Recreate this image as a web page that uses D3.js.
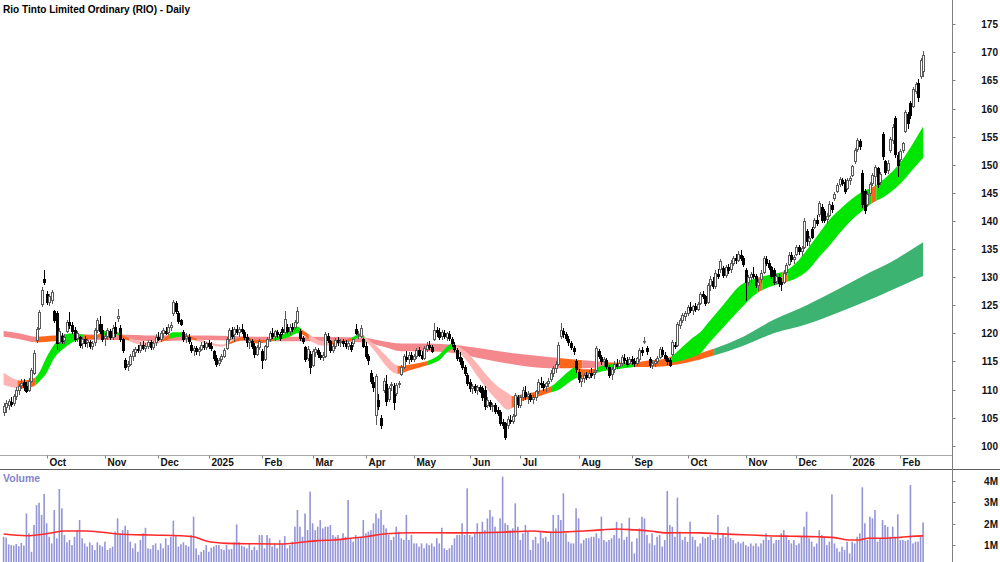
<!DOCTYPE html>
<html>
<head>
<meta charset="utf-8">
<script src="https://cdn.jsdelivr.net/npm/d3@7"></script>
<style>
  html, body { margin: 0; padding: 0; background: #fff; }
  svg { display: block; font-family: "Liberation Sans", Arial, sans-serif; }
</style>
</head>
<body>
<div id="chart"></div>
<script>
// Rio Tinto (RIO) daily candles, Sep 2024 - Feb 2026, one entry per trading day
var open = [
  106.0,106.8,107.2,107.8,107.6,108.8,110.0,110.8,111.4,110.6,110.0,111.6,113.0,118.8,121.0,125.2,129.6,
  127.0,125.6,126.0,124.0,123.6,118.4,119.6,118.8,120.4,122.0,121.4,120.6,119.2,119.4,118.2,119.0,118.4,118.4,117.8,118.4,120.6,121.6,120.6,
  119.2,119.6,120.4,119.4,121.2,122.8,121.0,119.0,115.2,114.2,114.6,116.0,116.6,117.2,117.0,118.0,117.4,117.8,118.4,117.6,118.4,
  119.4,119.0,120.0,120.4,120.2,121.2,123.6,125.4,123.6,122.4,120.2,119.2,119.4,118.0,117.0,117.4,116.8,117.2,118.0,117.6,
  118.2,117.8,116.8,115.6,114.8,115.4,116.0,117.4,119.0,120.6,119.8,120.8,120.2,120.8,120.2,119.4,118.4,118.6,117.8,116.4,117.6,
  116.8,115.4,117.8,119.0,120.0,119.6,120.2,119.8,120.8,120.2,121.2,120.4,121.2,121.2,122.0,120.4,119.2,117.6,115.6,116.4,
  114.4,116.6,117.0,116.2,115.8,116.0,119.6,118.6,117.0,117.8,118.8,118.4,118.6,118.2,117.8,118.0,118.2,120.8,119.8,119.6,119.0,
  117.8,116.0,113.0,111.4,105.4,108.2,105.0,110.0,111.0,108.4,110.8,110.6,109.4,111.0,112.8,114.0,115.8,115.4,116.2,
  115.4,116.0,117.0,116.2,115.6,117.2,118.0,117.6,119.0,120.6,120.2,119.6,120.0,119.4,119.8,119.0,118.0,117.0,115.8,115.0,114.0,112.6,
  111.4,110.2,110.6,110.0,110.4,110.2,110.0,107.2,107.8,107.0,107.2,106.4,106.0,104.2,104.0,103.6,104.6,104.4,105.4,108.6,
  107.2,108.6,109.6,108.8,109.0,108.4,108.6,109.8,111.2,111.0,110.6,111.2,111.8,113.0,113.8,114.6,119.6,120.4,119.8,119.0,118.2,117.4,115.0,
  113.2,111.6,112.0,112.6,112.2,113.0,112.8,113.4,116.8,115.8,115.0,115.2,114.0,112.8,113.6,114.6,114.2,114.8,115.6,115.2,114.8,
  115.4,115.0,114.8,115.4,117.0,118.6,117.4,115.4,114.4,114.8,115.0,115.8,117.0,116.2,115.6,115.2,116.4,118.0,118.0,121.4,122.4,123.0,
  123.6,124.6,124.2,124.8,124.4,125.4,127.0,126.6,125.6,128.6,129.4,128.4,130.6,131.4,131.6,130.4,131.8,131.4,132.6,133.4,133.0,134.0,133.4,
  131.2,129.2,130.0,130.6,130.2,128.6,129.6,131.0,133.2,132.6,131.8,131.2,129.4,130.0,129.2,129.2,131.0,132.4,134.0,133.2,
  134.2,135.4,134.6,135.4,138.2,136.4,138.6,139.0,140.2,141.2,142.4,141.8,140.4,141.0,142.8,144.0,145.4,146.6,147.2,147.0,145.8,
  147.2,148.2,150.6,152.8,154.2,148.6,145.4,143.0,145.0,146.8,148.0,149.4,147.0,155.4,150.6,149.0,152.6,154.4,158.4,151.8,
  151.0,152.6,156.0,159.0,161.0,160.4,163.2,164.6,165.8,166.6
];
var high = [
  107.6,108.2,108.4,108.6,109.2,110.4,111.0,111.8,111.8,111.3,112.0,113.8,117.0,121.2,124.2,128.2,131.2,
  127.5,127.0,127.8,124.2,124.0,121.0,120.0,119.8,122.4,123.8,122.0,121.2,120.4,119.6,119.4,119.6,119.2,118.8,118.6,121.0,122.8,123.0,121.6,
  120.0,121.0,120.8,121.4,122.0,124.4,121.4,119.2,115.6,115.0,116.4,117.2,117.6,118.0,118.4,118.6,118.2,118.8,118.8,118.6,119.8,
  120.2,120.4,121.0,121.2,121.6,122.0,126.0,125.8,124.0,122.6,120.6,120.0,119.8,118.4,117.8,117.8,117.6,118.4,118.6,118.4,
  118.8,118.4,117.0,116.2,115.6,116.4,117.4,119.4,121.0,121.2,121.2,121.4,121.2,121.6,120.6,119.8,119.2,119.0,118.2,118.0,119.0,
  117.2,118.0,119.4,120.4,121.0,120.6,120.6,120.2,121.2,124.0,121.6,121.6,121.8,122.4,124.6,120.8,119.6,117.8,117.8,116.8,
  117.2,117.6,117.4,116.6,116.6,120.2,120.0,118.8,118.2,119.2,119.4,119.0,119.0,118.8,118.6,118.4,119.2,121.6,120.4,121.4,119.2,
  118.4,116.4,113.4,112.2,112.8,109.2,105.4,112.0,112.6,110.6,111.4,111.2,111.2,111.6,114.4,116.4,116.8,116.6,116.6,
  116.4,117.4,117.6,116.8,117.8,118.4,118.6,118.0,121.8,121.2,121.0,120.6,120.6,120.2,120.4,119.4,118.4,117.4,116.6,115.6,114.4,113.0,
  111.8,111.0,111.0,110.8,110.8,110.6,110.6,108.6,108.2,107.6,107.6,106.8,106.4,104.8,104.2,105.2,105.4,105.6,109.4,109.0,
  109.0,110.4,110.6,109.8,109.4,109.0,110.0,111.8,112.2,111.6,111.4,112.0,113.4,114.2,115.0,118.4,121.8,121.0,120.2,119.6,118.6,117.8,115.4,
  113.6,112.6,113.0,113.2,113.4,113.8,113.4,117.8,117.2,116.2,115.8,115.6,114.4,114.0,115.0,115.4,115.2,116.2,116.4,115.8,115.8,
  116.0,115.6,115.8,117.4,117.6,119.4,117.8,115.8,115.2,115.4,116.0,117.6,117.6,116.6,116.0,115.6,118.8,118.4,122.0,122.8,123.6,124.0,
  125.0,125.6,125.0,125.4,125.6,127.4,127.6,126.8,129.0,130.2,130.0,131.2,131.4,133.2,132.0,132.2,132.4,133.0,133.8,134.2,134.6,134.8,133.8,
  131.6,130.4,131.0,131.8,130.6,129.6,131.2,133.8,133.8,133.0,132.0,131.6,130.6,130.6,129.8,131.2,132.6,134.4,134.4,134.0,
  135.8,135.8,135.6,140.6,138.6,137.4,139.0,140.6,141.0,143.6,143.0,142.2,141.4,143.6,143.4,145.2,146.8,147.8,147.6,147.4,147.6,
  148.0,150.0,153.0,154.8,154.6,149.0,145.6,145.2,147.0,148.6,150.0,149.6,148.8,155.8,150.8,150.8,155.0,157.2,158.6,152.2,
  152.8,154.0,159.8,159.4,161.4,163.8,164.8,165.2,169.0,170.2
];
var low = [
  105.4,106.0,106.6,107.0,107.2,108.4,109.2,110.2,110.0,109.5,109.8,111.3,112.8,118.5,120.8,124.8,128.8,
  125.2,125.0,125.4,122.0,117.2,117.0,118.2,118.2,120.2,121.0,120.0,118.6,118.6,117.6,117.4,117.8,117.6,117.4,117.2,118.0,120.2,120.0,118.6,
  118.0,119.0,119.0,119.0,119.6,122.2,118.6,116.6,113.6,113.4,114.4,115.2,116.0,116.6,116.6,117.2,116.8,117.4,117.2,117.2,118.0,
  118.8,118.6,119.4,119.8,119.8,120.6,123.2,123.6,121.8,121.4,118.6,118.4,118.2,116.6,116.2,116.4,116.2,117.0,117.2,117.2,
  117.4,117.0,115.2,114.2,114.4,115.0,115.8,117.2,118.6,119.2,118.6,119.8,119.6,120.0,119.0,117.8,117.4,117.4,115.8,116.2,117.2,
  113.8,115.2,117.6,118.6,119.2,118.8,119.4,118.8,119.8,120.0,120.0,119.8,120.4,120.8,121.8,118.8,118.2,115.0,115.2,113.0,
  114.2,116.0,115.8,115.4,115.2,115.8,118.4,116.6,116.6,117.4,118.0,117.8,117.8,117.4,117.2,116.8,117.8,119.8,119.2,119.4,117.6,
  115.6,114.6,111.2,109.8,103.8,106.6,103.2,109.6,107.2,108.0,110.0,106.6,109.0,110.4,112.6,113.8,115.0,114.8,115.0,
  115.0,115.6,116.0,115.4,115.4,116.8,117.2,116.6,118.8,119.6,119.0,119.0,119.2,118.8,118.8,117.8,116.8,115.2,114.6,113.6,112.6,110.8,
  109.8,109.4,109.6,109.2,109.6,108.2,106.6,106.8,106.6,106.2,105.8,105.4,103.6,103.2,101.2,103.2,104.0,104.0,105.2,106.8,
  106.8,108.2,108.4,107.6,108.0,107.6,108.2,109.4,110.4,110.0,109.8,110.6,111.6,112.4,113.2,114.4,119.2,119.4,118.8,118.0,117.2,116.4,113.2,
  111.4,110.6,111.4,111.8,112.0,112.2,112.0,113.2,115.6,114.6,114.2,113.8,112.2,111.8,113.2,113.8,113.8,114.4,114.8,114.2,114.4,
  114.6,114.2,114.4,115.0,116.2,118.2,116.4,114.0,113.8,114.2,114.8,115.6,116.0,115.2,114.6,114.2,116.2,117.4,117.8,121.0,122.0,122.4,
  123.2,123.8,123.4,124.0,124.2,125.2,126.2,125.0,125.4,127.8,128.0,128.0,129.8,131.0,130.0,130.0,130.8,131.0,132.2,132.6,132.8,133.0,132.0,
  126.0,128.6,129.2,129.8,128.2,127.8,129.2,130.8,132.2,131.4,129.8,128.8,129.0,128.4,127.8,129.0,130.6,132.2,132.8,132.6,
  134.0,134.2,134.0,135.2,135.8,135.8,137.0,138.8,139.2,140.8,139.8,139.8,139.6,140.8,141.6,143.8,145.2,146.2,146.4,145.0,145.6,
  146.6,148.0,150.4,152.4,152.8,142.4,141.4,142.6,144.6,146.4,146.4,146.0,146.6,151.0,148.4,148.6,152.2,153.8,151.4,148.0,
  150.6,152.2,155.8,156.6,158.4,160.2,162.8,161.4,165.4,165.8
];
var close = [
  107.0,107.6,108.0,107.4,108.8,110.0,110.6,111.2,110.4,109.8,111.6,113.4,116.5,120.8,123.8,127.8,129.2,
  125.6,126.6,127.4,122.4,118.2,120.4,118.6,119.4,122.0,121.4,120.4,119.0,120.0,118.0,119.0,118.2,118.8,117.8,118.2,120.6,122.4,120.4,119.0,
  119.6,120.6,119.4,121.0,120.0,123.0,119.0,117.0,114.0,114.6,116.0,116.8,117.2,117.0,118.0,117.4,117.8,118.4,117.6,118.2,119.4,
  119.0,120.0,120.6,120.0,121.2,121.4,125.6,124.0,122.2,121.6,119.0,119.6,118.6,117.0,117.4,116.8,117.2,118.0,117.6,118.2,
  117.8,117.4,115.6,114.6,115.2,116.0,117.0,119.0,120.6,119.6,120.8,120.2,120.8,120.4,119.4,118.4,118.8,117.8,116.4,117.6,118.6,
  115.2,117.8,119.0,120.0,119.6,120.4,119.8,119.2,120.2,122.6,120.4,121.2,120.8,122.0,124.0,119.2,118.6,115.4,117.2,114.0,
  116.8,117.2,116.4,115.8,116.2,119.8,118.8,117.0,117.8,118.8,118.4,118.6,118.2,117.8,118.2,117.2,119.0,120.0,119.8,121.0,117.8,
  116.0,115.2,111.6,110.4,112.4,107.0,103.6,111.6,108.0,110.2,111.0,107.8,110.8,111.2,114.0,116.0,115.4,116.2,115.4,
  116.0,117.0,116.2,115.6,117.4,118.0,117.6,116.8,120.6,120.2,119.4,120.2,119.6,120.0,119.2,118.2,117.2,115.6,115.0,114.0,113.0,111.2,
  110.2,110.6,110.0,110.4,109.8,108.6,107.0,108.2,107.0,107.2,106.2,105.8,104.0,103.6,101.6,104.8,104.4,105.2,109.0,107.4,
  108.6,110.0,108.8,109.2,108.4,108.6,109.8,111.4,111.0,110.4,111.2,111.6,113.0,113.8,114.6,118.0,120.6,119.8,119.2,118.4,117.6,116.8,113.6,
  111.8,112.0,112.6,112.2,113.0,112.6,113.2,117.4,116.0,115.0,115.4,114.2,112.6,113.6,114.6,114.2,114.8,115.8,115.2,114.6,115.4,
  115.0,114.8,115.6,117.0,116.6,118.6,116.8,114.4,114.8,115.0,115.6,117.2,116.4,115.6,115.0,114.4,118.4,117.8,121.6,122.4,123.2,123.6,
  124.6,124.2,124.8,124.4,125.2,127.0,126.6,125.4,128.6,129.6,128.4,130.8,130.2,132.8,130.4,131.8,131.2,132.6,133.4,133.0,134.2,133.4,132.4,
  129.2,130.0,130.6,130.2,128.6,129.2,130.8,133.4,132.6,131.8,130.2,129.2,130.2,129.0,128.8,130.8,132.2,134.0,133.2,133.6,
  135.4,134.6,135.2,140.0,136.4,137.0,137.2,140.2,139.6,143.2,140.2,140.2,140.8,143.0,142.2,144.8,146.4,147.4,146.8,145.4,147.2,
  147.6,149.8,152.6,154.4,153.4,143.0,142.0,144.8,146.6,148.2,149.6,146.6,148.4,151.6,148.8,150.4,154.6,156.8,152.0,150.0,
  152.4,153.8,159.4,157.4,158.8,163.4,164.4,162.0,168.6,169.6
];
// volume, millions of shares
var volume = [
  1.39,1.35,1.03,1.0,0.98,1.05,0.95,1.1,0.98,2.48,1.55,0.69,1.94,2.87,2.98,2.41,3.39,
  2.02,1.39,1.08,2.64,1.32,3.62,2.72,1.47,1.13,1.24,1.0,1.39,1.7,2.17,1.32,1.08,0.93,1.13,1.0,0.77,1.13,1.0,0.93,
  1.16,0.77,0.85,0.93,1.63,2.25,1.55,1.7,1.91,1.7,1.16,0.85,1.08,0.69,1.24,1.55,1.81,0.85,0.82,1.0,1.08,
  0.77,1.08,0.85,1.32,1.0,1.39,2.14,1.47,0.93,1.04,1.13,1.0,0.93,1.47,2.33,0.85,0.54,0.69,0.77,1.0,
  0.69,0.88,0.93,1.0,1.0,0.82,0.77,1.0,0.8,0.82,1.13,1.97,1.13,0.97,0.93,0.85,1.08,0.77,0.93,0.77,1.47,
  1.47,0.85,1.47,1.32,0.93,1.08,0.85,1.24,1.04,1.42,0.85,1.0,1.16,1.86,2.64,1.86,1.39,2.48,1.7,3.5,
  2.02,1.7,1.86,2.17,1.78,1.86,1.86,1.94,1.47,1.39,1.47,1.24,1.55,1.39,3.11,1.32,1.16,1.47,1.32,1.39,2.17,
  1.55,1.63,1.7,2.02,2.48,2.25,2.64,1.94,1.78,1.47,1.24,1.39,1.86,1.63,1.32,1.24,2.41,1.24,1.47,
  1.08,1.08,0.93,1.08,0.85,1.08,1.0,1.08,0.93,1.32,1.08,1.81,0.85,0.77,0.85,1.0,1.32,1.47,1.47,2.02,1.47,3.65,
  1.47,1.39,1.55,2.02,1.63,2.09,1.7,2.25,2.64,2.33,1.86,1.63,2.25,4.2,2.02,1.94,1.7,1.78,2.95,1.86,
  1.24,1.55,1.94,1.63,0.77,1.24,1.39,1.08,1.6,1.32,1.39,1.16,1.63,2.41,1.78,2.41,2.17,3.42,1.55,1.16,1.08,1.08,2.72,
  2.25,1.08,1.24,1.32,1.32,1.39,1.39,1.55,1.32,2.33,1.24,1.16,1.24,1.32,1.47,2.09,1.32,2.02,1.24,1.39,2.28,
  1.16,0.61,1.32,1.78,2.33,2.25,1.47,1.08,1.55,1.0,1.39,1.47,0.93,1.24,3.53,1.94,1.86,1.39,3.22,1.63,1.24,1.39,
  1.16,2.09,1.39,1.24,0.93,1.08,1.39,1.32,1.39,1.47,1.24,1.32,2.41,1.32,1.55,1.39,1.86,1.32,1.24,1.08,1.16,1.08,1.16,
  1.0,0.93,1.08,0.97,1.08,0.93,1.08,1.24,1.55,1.24,1.39,1.08,1.24,1.24,1.55,1.7,1.47,1.24,1.08,1.24,
  1.0,1.08,1.39,1.86,2.56,1.32,1.16,0.93,1.08,1.7,1.47,1.39,1.0,1.16,3.37,1.08,0.85,0.69,0.93,0.77,1.16,
  0.61,1.16,1.08,1.39,1.55,3.7,2.02,1.24,2.33,2.25,2.64,1.16,1.32,2.17,1.94,1.86,1.39,1.86,1.39,2.44,
  1.24,1.24,1.19,1.24,3.81,1.08,1.16,1.16,1.39,2.06
];

// short-term moving average ribbon, read at knots (trading-day index)
var shortKnot = [0,7,12,14,17,20,24,28,31,36,40,44,47,52,58,63,67,70,74,80,86,90,95,100,104,108,113,116,118,122,
  126,130,135,139,141,143,147,151,154,156,160,165,169,172,175,177,179,183,187,191,195,199,201,205,210,214,217,220,223,226,
  229,232,236,242,249,255,260,264,268,272,275,278,284,291,297,302,308,313,317,322,326,330,334,339,343,348,354,359,363];
var shortTop = [113.0,111.6,112.0,113.0,115.8,118.0,119.8,120.0,119.8,119.6,120.4,120.4,119.6,118.8,118.4,119.0,120.2,120.2,119.4,118.6,
  118.0,118.6,119.4,118.8,118.8,119.4,120.4,121.2,120.6,119.4,118.6,118.6,118.8,119.6,120.0,119.2,117.8,116.0,114.6,114.2,
  114.4,114.8,115.4,116.2,117.6,118.2,117.8,116.6,114.6,112.4,110.6,109.4,108.8,109.2,109.6,110.2,110.8,112.0,113.2,114.0,
  113.6,113.6,114.2,114.6,114.8,115.2,115.4,116.0,117.6,119.2,120.2,121.8,125.0,128.6,129.8,130.4,131.0,132.6,134.8,137.8,
  140.2,142.0,143.6,145.2,146.0,147.6,150.4,153.8,156.8];
var shortBot = [110.8,110.2,110.6,111.4,113.0,115.6,117.4,118.6,119.0,119.0,119.6,119.8,119.2,118.2,117.8,118.6,119.2,119.4,119.0,118.2,
  117.6,118.2,118.8,118.2,118.4,118.8,119.4,120.0,119.8,118.4,117.8,118.0,118.4,119.0,119.4,118.6,116.6,114.2,113.0,112.8,
  113.4,114.0,114.6,115.2,116.6,117.2,116.8,115.0,112.4,110.0,108.0,106.4,106.8,108.0,108.6,109.2,109.6,110.2,111.2,112.0,
  112.2,112.6,113.2,113.6,114.0,114.4,114.6,114.8,115.2,115.8,116.4,118.0,121.0,124.4,127.0,128.2,129.0,129.8,131.0,133.6,
  135.6,137.8,139.8,141.8,143.2,144.4,146.6,149.2,151.2];
var shortStateFrom = [0,6,13,32,39,47,50,63,66,73,77,89,107,118,121,129,138,143,156,168,179,201,217,227,234,249,264,298,300,308,310,343,345];
var shortState = ['fall','flat','rise','flat','rise','flat','fall','flat','rise','flat','fall','flat','rise','flat','fall','flat','rise',
  'fall','flat','rise','fall','flat','rise','flat','rise','flat','rise','flat','rise','flat','rise','flat','rise'];

// long-term moving average ribbon
var longKnot = [0,6,13,20,30,45,60,80,100,120,142,150,157,165,176,190,202,215,229,242,255,262,270,280,292,304,317,330,340,350,358,363];
var longTop = [120.4,120.0,119.4,119.6,119.8,119.8,119.6,119.6,119.4,119.4,119.2,118.6,118.2,118.2,118.0,117.2,116.4,115.8,115.2,114.8,
  114.8,115.0,115.8,117.2,119.4,122.4,125.0,128.0,130.4,132.6,134.8,136.2];
var longBot = [119.4,119.0,118.4,118.6,118.8,118.8,118.6,118.8,118.6,118.6,118.4,117.6,116.8,116.8,116.6,115.4,114.4,113.8,113.8,114.0,
  114.0,114.2,114.8,116.0,117.8,120.0,121.6,123.8,125.6,127.6,129.2,130.2];
var longStateFrom = [0,13,31,220,229,239,281];
var longState = ['fall','flat','fall','flat','fall','flat','rise'];

// volume moving average, read at knots
var volMaKnot = [0,9,18,24,33,45,58,70,75,80,88,99,110,116,124,130,137,143,151,162,170,183,196,209,216,222,229,236,242,249,
  255,262,268,275,282,288,295,301,308,314,321,328,334,338,341,347,354,360,363];
var volMa = [1.52,1.44,1.55,1.66,1.66,1.52,1.47,1.44,1.39,1.19,1.08,1.06,1.05,1.11,1.21,1.24,1.32,1.39,1.53,1.58,1.58,1.57,1.6,1.66,1.6,
  1.62,1.66,1.71,1.75,1.71,1.66,1.57,1.58,1.57,1.53,1.5,1.47,1.44,1.42,1.41,1.39,1.35,1.24,1.24,1.32,1.32,1.36,1.42,1.43];

var priceTicks = [100,105,110,115,120,125,130,135,140,145,150,155,160,165,170,175];
var volTicks = [1,2,3,4];
var volTickLabels = ['1M','2M','3M','4M'];
var monthLabels = ['Oct','Nov','Dec','2025','Feb','Mar','Apr','May','Jun','Jul','Aug','Sep','Oct','Nov','Dec','2026','Feb'];
var firstDay = '2024-09-06';
var holidays = ['2024-12-25','2024-12-26','2025-01-01','2025-01-27','2025-04-18','2025-04-21','2025-04-25',
  '2025-06-09','2025-12-25','2025-12-26','2026-01-01','2026-01-26'];

var colors = {
  short: { rise: '#00e600', flat: '#ff661a', fall: '#ffb4b4' },
  long:  { rise: '#3cb371', flat: '#ff661a', fall: '#f4888c' }
};

var W = 1000, H = 562,
    axisX = 952.5,
    priceBottom = 455.5,
    n = close.length;

// trading calendar (ASX)
function tradingDays(start, count) {
    var d = new Date(start + 'T00:00:00Z'), out = [];
    while (out.length < count) {
        var wd = d.getUTCDay(), s = d.toISOString().slice(0, 10);
        if (wd !== 0 && wd !== 6 && holidays.indexOf(s) < 0) out.push(new Date(d));
        d.setUTCDate(d.getUTCDate() + 1);
    }
    return out;
}
var dates = tradingDays(firstDay, n);
var monthStarts = [];
dates.forEach(function (d, i) {
    if (i > 0 && d.getUTCMonth() !== dates[i - 1].getUTCMonth()) monthStarts.push(i);
});

var x = d3.scaleLinear().domain([0, n - 1]).range([3.6, 923.1]);
var y = d3.scaleLinear().domain([100, 175]).range([445.7, 24.3]);
var yv = d3.scaleLinear().domain([0, 4]).range([566.5, 480.9]);

var svg = d3.select('#chart').append('svg')
    .attr('width', W).attr('height', H);
var defs = svg.append('defs');

defs.append('clipPath').attr('id', 'clip-price')
    .append('rect').attr('x', 0).attr('y', 0).attr('width', axisX).attr('height', priceBottom);
defs.append('clipPath').attr('id', 'clip-vol')
    .append('rect').attr('x', 0).attr('y', 470).attr('width', axisX).attr('height', H - 470);

var price = svg.append('g').attr('clip-path', 'url(#clip-price)');

// ribbons
function drawRibbon(name, knots, top, bot, from, state) {
    var rows = knots.map(function (k, j) { return { i: k, t: top[j], b: bot[j] }; });
    var area = d3.area()
        .curve(d3.curveMonotoneX)
        .x(function (d) { return x(d.i); })
        .y0(function (d) { return y(d.b); })
        .y1(function (d) { return y(d.t); });
    var g = price.append('g').attr('class', 'ribbon-' + name);
    from.forEach(function (s, k) {
        var x0 = k === 0 ? 0 : x(s - 0.5),
            x1 = k === from.length - 1 ? x(n - 1) + 2 : x(from[k + 1] - 0.5),
            id = 'clip-' + name + '-' + k;
        defs.append('clipPath').attr('id', id)
            .append('rect').attr('x', x0).attr('y', 0).attr('width', x1 - x0).attr('height', priceBottom);
        g.append('path')
            .datum(rows)
            .attr('d', area)
            .attr('fill', colors[name][state[k]])
            .attr('clip-path', 'url(#' + id + ')');
    });
}
drawRibbon('long', longKnot, longTop, longBot, longStateFrom, longState);
drawRibbon('short', shortKnot, shortTop, shortBot, shortStateFrom, shortState);

// candles
var candles = price.append('g').attr('class', 'candles');
d3.range(n).forEach(function (i) {
    var cx = Math.round(x(i)) + 0.5,
        up = close[i] >= open[i],
        ink = up ? '#5a5a5a' : '#000',
        yTop = Math.round(y(Math.max(open[i], close[i]))) + 0.5,
        yBot = Math.round(y(Math.min(open[i], close[i]))) + 0.5;
    candles.append('line')
        .attr('x1', cx).attr('x2', cx)
        .attr('y1', Math.round(y(high[i]))).attr('y2', Math.round(y(low[i])) + 1)
        .attr('stroke', ink).attr('stroke-width', 1);
    candles.append('rect')
        .attr('x', cx - 1).attr('y', yTop)
        .attr('width', 2).attr('height', Math.max(yBot - yTop, 0.5))
        .attr('fill', up ? '#fff' : '#000')
        .attr('stroke', ink).attr('stroke-width', 1);
});

// volume
var vol = svg.append('g').attr('clip-path', 'url(#clip-vol)');
vol.selectAll('rect').data(volume).enter().append('rect')
    .attr('x', function (d, i) { return x(i) - 0.8; })
    .attr('y', function (d) { return yv(d); })
    .attr('width', 1.6)
    .attr('height', function (d) { return yv(0) - yv(d); })
    .attr('fill', '#9494d8');
vol.append('path')
    .datum(volMaKnot.map(function (k, j) { return [k, volMa[j]]; }))
    .attr('d', d3.line().curve(d3.curveMonotoneX)
        .x(function (d) { return x(d[0]); })
        .y(function (d) { return yv(d[1]); }))
    .attr('fill', 'none')
    .attr('stroke', '#ff2a2a')
    .attr('stroke-width', 1.6);

// frame lines
svg.append('line').attr('x1', 0).attr('x2', axisX).attr('y1', priceBottom).attr('y2', priceBottom)
    .attr('stroke', '#a8a8a8');
svg.append('line').attr('x1', 0).attr('x2', W).attr('y1', 469.5).attr('y2', 469.5)
    .attr('stroke', '#606060');
svg.append('line').attr('x1', axisX).attr('x2', axisX).attr('y1', 0).attr('y2', H)
    .attr('stroke', '#808080');

// month axis
var months = svg.append('g').attr('class', 'months');
monthStarts.forEach(function (i, k) {
    var mx = Math.round(x(i)) + 0.5;
    months.append('line').attr('x1', mx).attr('x2', mx).attr('y1', priceBottom).attr('y2', priceBottom + 3)
        .attr('stroke', '#808080');
    months.append('text').attr('x', mx + 2).attr('y', 466)
        .attr('font-size', '10px').attr('font-weight', 'bold').attr('fill', '#111')
        .text(monthLabels[k]);
});

// price axis
var pAxis = svg.append('g').attr('class', 'price-axis');
priceTicks.forEach(function (v) {
    var ty = Math.round(y(v)) + 0.5;
    pAxis.append('line').attr('x1', axisX).attr('x2', axisX + 3).attr('y1', ty).attr('y2', ty).attr('stroke', '#808080');
    pAxis.append('text').attr('x', 998).attr('y', ty + 3.6)
        .attr('text-anchor', 'end').attr('font-size', '10px').attr('font-weight', 'bold').attr('fill', '#111')
        .text(v);
});

// volume axis
var vAxis = svg.append('g').attr('class', 'vol-axis');
volTicks.forEach(function (v, k) {
    var ty = Math.round(yv(v)) + 0.5;
    vAxis.append('line').attr('x1', axisX).attr('x2', axisX + 3).attr('y1', ty).attr('y2', ty).attr('stroke', '#808080');
    vAxis.append('text').attr('x', 998).attr('y', ty + 3.6)
        .attr('text-anchor', 'end').attr('font-size', '10px').attr('font-weight', 'bold').attr('fill', '#111')
        .text(volTickLabels[k]);
});

svg.append('text').attr('x', 3).attr('y', 482)
    .attr('font-size', '10.5px').attr('font-weight', 'bold').attr('fill', '#8484cc')
    .text('Volume');

svg.append('text').attr('x', 3).attr('y', 12.5)
    .attr('font-size', '11.5px').attr('font-weight', 'bold').attr('fill', '#000')
    .attr('textLength', 187).attr('lengthAdjust', 'spacingAndGlyphs')
    .text('Rio Tinto Limited Ordinary (RIO) - Daily');
</script>
</body>
</html>
